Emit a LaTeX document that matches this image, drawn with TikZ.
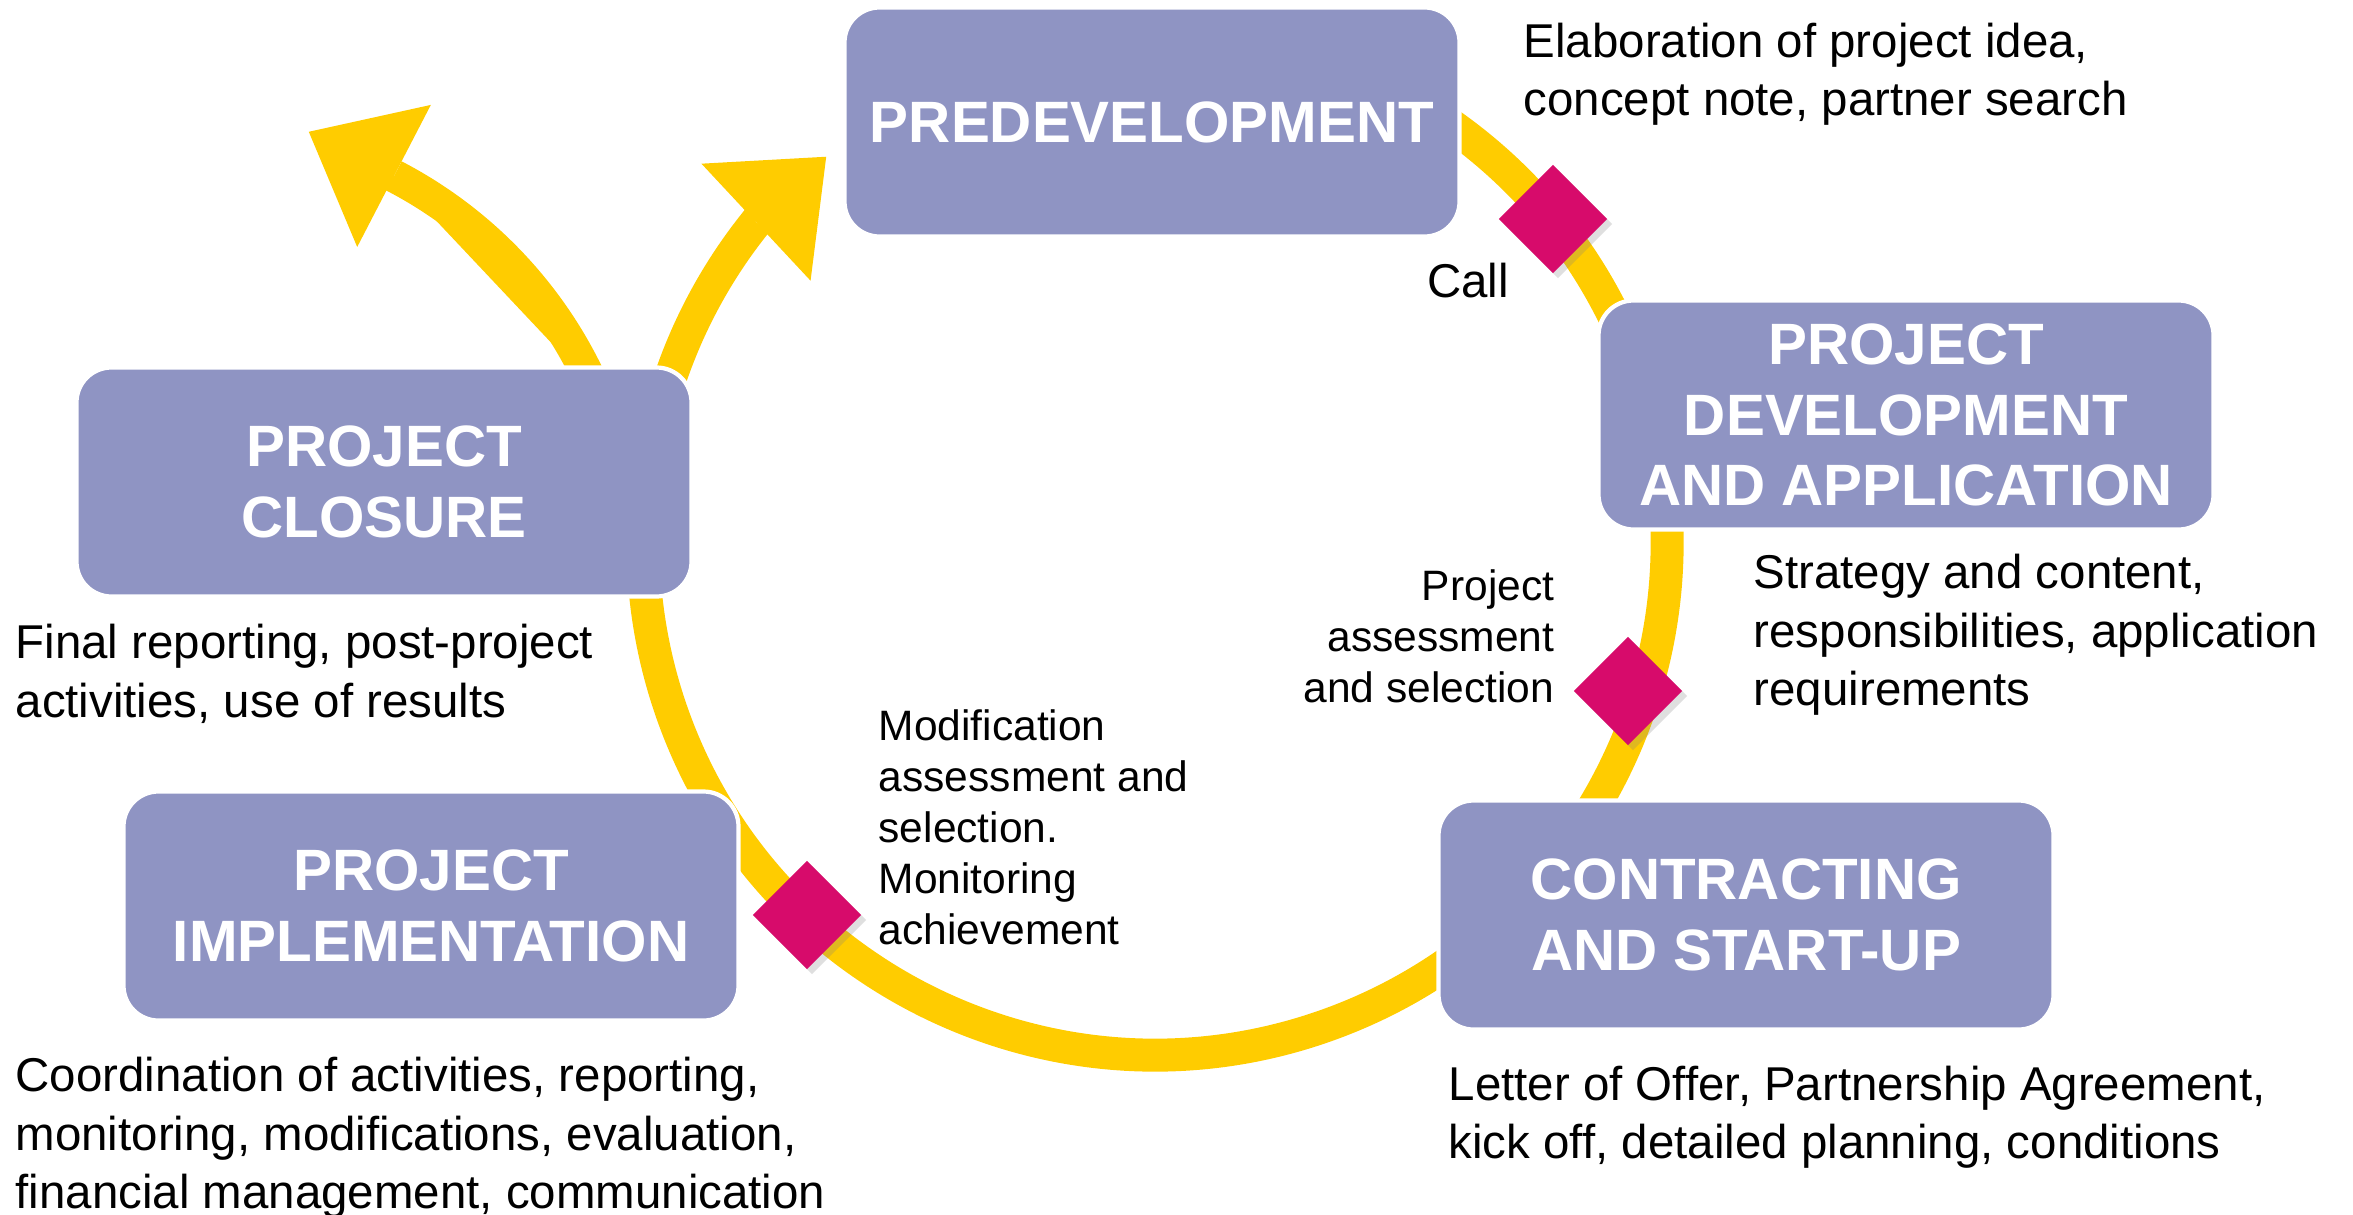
\documentclass[tikz,border=0pt]{standalone}
\usepackage{fontspec}
\setmainfont{Liberation Sans}
\usepackage{tikz}
\usetikzlibrary{arrows.meta,shapes.geometric,shadows}

\definecolor{phasecol}{HTML}{8F94C3}
\definecolor{ringcol}{HTML}{FFCC00}
\definecolor{gatecol}{HTML}{D70B6B}

\begin{document}
\begin{tikzpicture}[
  phase/.style={rectangle, rounded corners=0.35cm, fill=phasecol, draw=white, line width=1.2pt,
    text=white, align=center, inner sep=2pt, minimum width=6.15cm, minimum height=2.29cm,
    font=\fontsize{16.6}{20}\selectfont\bfseries},
  gate/.style={diamond, fill=gatecol, minimum width=1.09cm, minimum height=1.09cm, inner sep=0pt,
    drop shadow={shadow xshift=0.05cm, shadow yshift=-0.05cm, opacity=0.25}},
  ring/.style={draw=ringcol, line width=0.33cm},
  bighead/.style={-{Triangle[width=1.6cm, length=0.96cm, line width=0pt]}},
  note/.style={inner sep=0pt, align=left, font=\fontsize{13.5}{16.6}\selectfont},
  gatenote/.style={inner sep=0pt, font=\fontsize{12.1}{14.5}\selectfont}
]
\useasboundingbox (0,0) rectangle (23.53,12.14);

\coordinate (hub) at (11.55,6.71);
\coordinate (exitfoot) at (5.935,8.264);

%Cycle
\draw[ring] (hub) ++(110:5.12) arc[start angle=110, end angle=-190, radius=5.12];
\draw[ring, bighead, fill=ringcol] (hub) ++(165:5.12) arc[start angle=165, end angle=141.2, radius=5.12] -- ++(43:0.96);
\draw[ring, bighead, fill=ringcol] (exitfoot) arc[start angle=24, end angle=62.6, radius=4.4] -- ++(152.6:0.96);

%Gates
\node[gate] (callgate) at (15.53,9.95) {};
\node[gate] (assessgate) at (16.28,5.23) {};
\node[gate] (modgate) at (8.07,2.99) {};

%Phases
\node[phase] (predev) at (11.52,10.92) {PREDEVELOPMENT};
\node[phase] (projdev) at (19.06,7.99) {PROJECT\\DEVELOPMENT\\AND APPLICATION};
\node[phase] (contract) at (17.46,2.99) {CONTRACTING\\AND START-UP};
\node[phase] (implem) at (4.31,3.08) {PROJECT\\IMPLEMENTATION};
\node[phase] (closure) at (3.84,7.32) {PROJECT\\CLOSURE};

%Notes
\node[note, anchor=west] (predevnote) at (15.23,11.40) {Elaboration of project idea,\\concept note, partner search};
\node[note] (callnote) at (14.68,9.33) {Call};
\node[note, anchor=west] (projdevnote) at (17.53,5.79) {Strategy and content,\\responsibilities, application\\requirements};
\node[gatenote, anchor=east, align=right] (assessnote) at (15.55,5.78) {Project\\assessment\\and selection};
\node[gatenote, anchor=west, align=left] (modnote) at (8.78,3.87) {Modification\\assessment and\\selection.\\Monitoring\\achievement};
\node[note, anchor=west] (closurenote) at (0.15,5.40) {Final reporting, post-project\\activities, use of results};
\node[note, anchor=west] (implemnote) at (0.15,0.76) {Coordination of activities, reporting,\\monitoring, modifications, evaluation,\\financial management, communication};
\node[note, anchor=west] (contractnote) at (14.48,0.97) {Letter of Offer, Partnership Agreement,\\kick off, detailed planning, conditions};

\end{tikzpicture}
\end{document}
